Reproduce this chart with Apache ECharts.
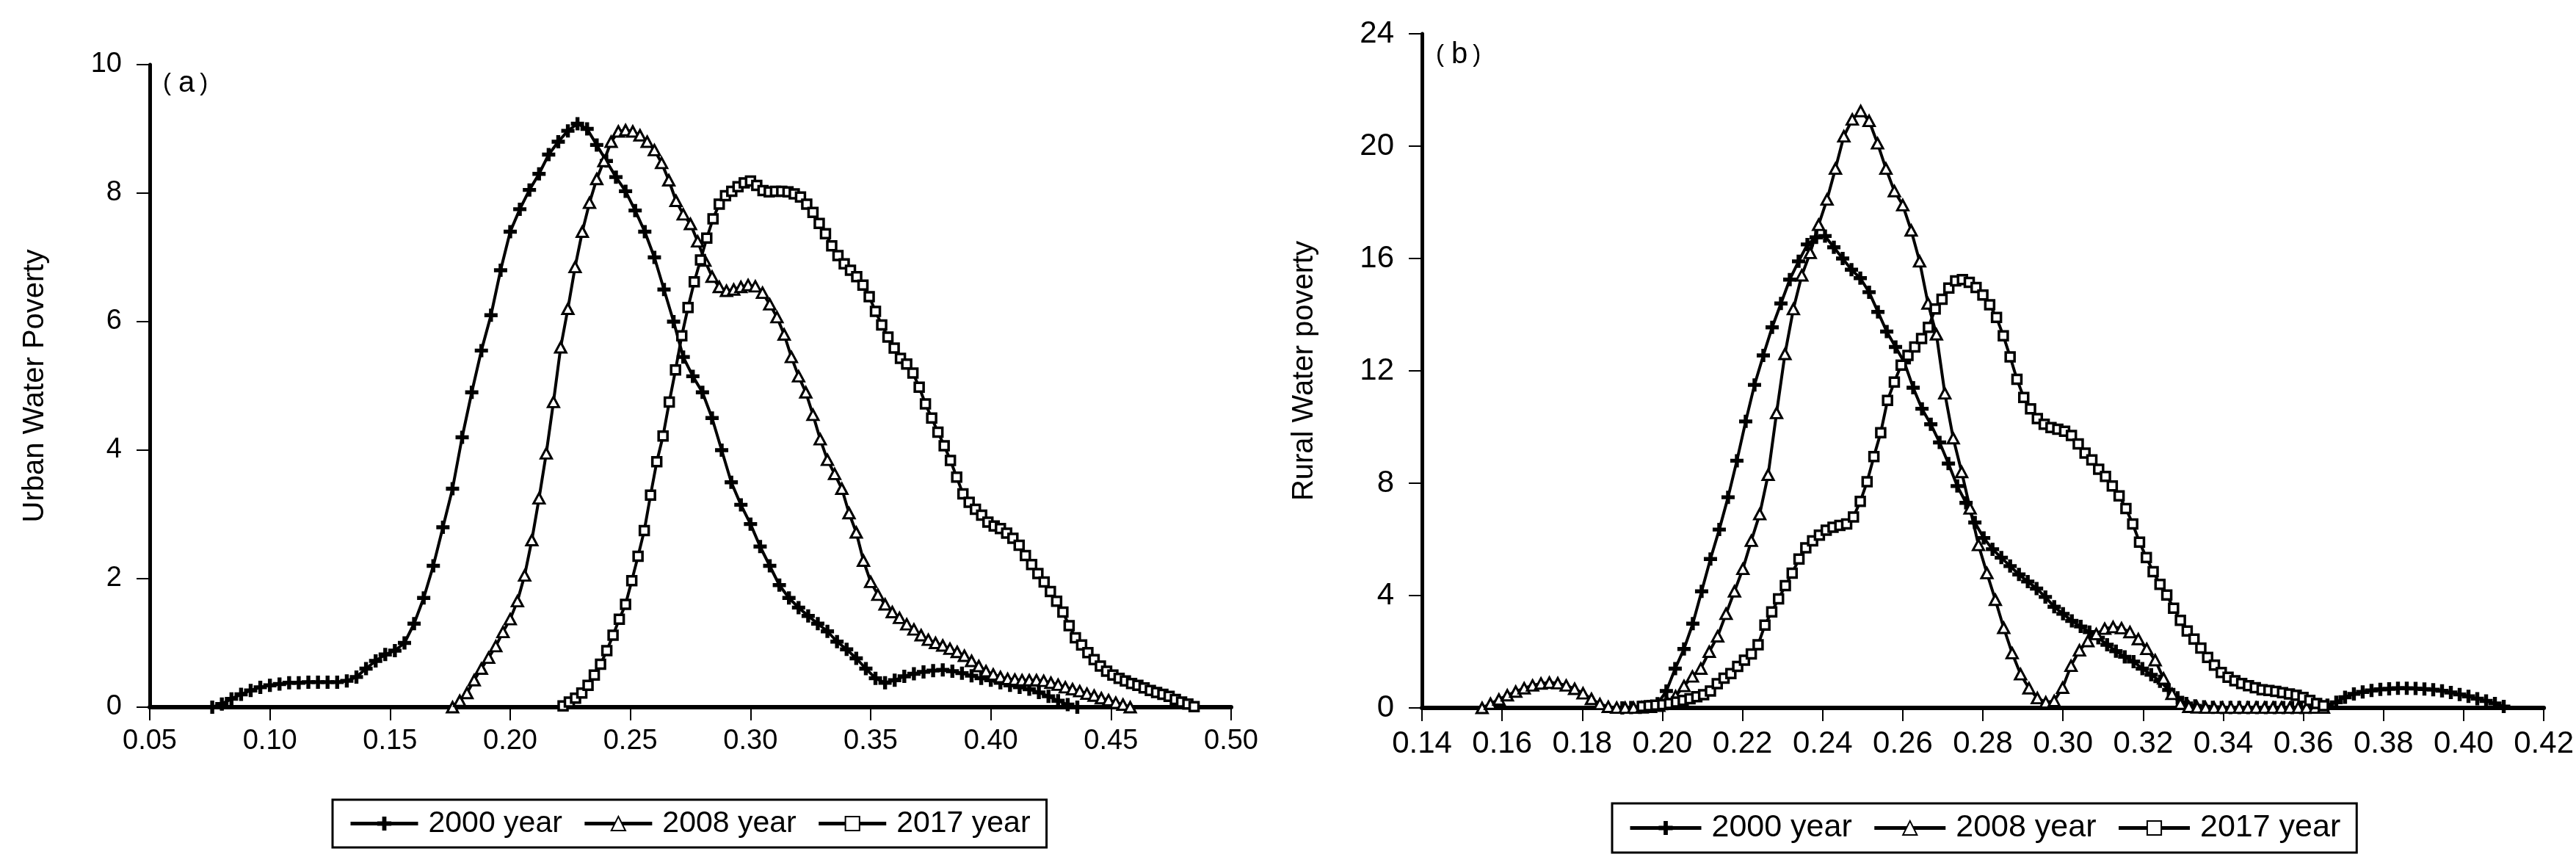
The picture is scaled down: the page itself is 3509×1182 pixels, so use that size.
<!DOCTYPE html>
<html>
<head>
<meta charset="utf-8">
<title>Urban / Rural Water Poverty kernel density</title>
<script src="https://cdn.jsdelivr.net/npm/echarts@6.0.0/dist/echarts.min.js"></script>
<style>
  html, body { margin: 0; padding: 0; background: #fff; }
  #chart { width: 3509px; height: 1182px; }
</style>
</head>
<body>
<div id="chart"></div>
<script>
// series names shared by both panels
var seriesNames = ['2000 year', '2008 year', '2017 year'];

// tick labels
var urbanXTicks = [0.05, 0.10, 0.15, 0.20, 0.25, 0.30, 0.35, 0.40, 0.45, 0.50];
var urbanYTicks = [0, 2, 4, 6, 8, 10];
var ruralXTicks = [0.14, 0.16, 0.18, 0.20, 0.22, 0.24, 0.26, 0.28, 0.30, 0.32, 0.34, 0.36, 0.38, 0.40, 0.42];
var ruralYTicks = [0, 4, 8, 12, 16, 20, 24];

// density evaluation grid of each curve: first x and spacing (2000, 2008, 2017)
var urbanStart = [0.076, 0.176, 0.222];
var urbanStep = [0.004, 0.003, 0.0026];
var ruralStart = [0.190, 0.155, 0.195];
var ruralStep = [0.0022, 0.0021, 0.0017];

// (a) Urban Water Poverty, density values
var urban2000 = [0, 0.05, 0.13, 0.2, 0.26, 0.31, 0.34, 0.36, 0.38, 0.38,
  0.39, 0.39, 0.39, 0.39, 0.41, 0.47, 0.6, 0.72, 0.82, 0.88,
  1.0, 1.3, 1.7, 2.2, 2.8, 3.4, 4.2, 4.9, 5.55, 6.1,
  6.8, 7.4, 7.75, 8.05, 8.3, 8.6, 8.8, 8.97, 9.08, 9.0,
  8.75, 8.5, 8.25, 8.03, 7.73, 7.4, 7.0, 6.5, 6.0, 5.45,
  5.15, 4.9, 4.5, 4.0, 3.5, 3.15, 2.85, 2.5, 2.2, 1.9,
  1.7, 1.55, 1.42, 1.3, 1.18, 1.02, 0.9, 0.76, 0.6, 0.45,
  0.38, 0.42, 0.48, 0.52, 0.55, 0.57, 0.58, 0.56, 0.53, 0.49,
  0.45, 0.42, 0.38, 0.34, 0.31, 0.28, 0.23, 0.17, 0.1, 0.04,
  0];
var urban2008 = [0, 0.1, 0.22, 0.42, 0.6, 0.77, 0.95, 1.17, 1.37, 1.65,
  2.05, 2.6, 3.25, 3.95, 4.75, 5.6, 6.2, 6.85, 7.4, 7.85,
  8.22, 8.5, 8.8, 8.96, 8.98, 8.96, 8.9, 8.8, 8.67, 8.47,
  8.2, 7.88, 7.67, 7.52, 7.25, 6.95, 6.7, 6.54, 6.48, 6.5,
  6.54, 6.57, 6.55, 6.45, 6.27, 6.07, 5.8, 5.45, 5.15, 4.9,
  4.55, 4.17, 3.85, 3.63, 3.4, 3.02, 2.72, 2.28, 1.95, 1.75,
  1.6, 1.48, 1.39, 1.29, 1.21, 1.12, 1.05, 1.0, 0.96, 0.91,
  0.86, 0.8, 0.72, 0.64, 0.56, 0.51, 0.47, 0.44, 0.43, 0.42,
  0.42, 0.42, 0.41, 0.38, 0.35, 0.31, 0.28, 0.25, 0.21, 0.18,
  0.14, 0.11, 0.07, 0.04, 0];
var urban2017 = [0.02, 0.08, 0.14, 0.22, 0.34, 0.5, 0.67, 0.88, 1.12, 1.37,
  1.6, 1.97, 2.35, 2.75, 3.3, 3.82, 4.22, 4.75, 5.25, 5.78,
  6.22, 6.62, 6.96, 7.3, 7.6, 7.83, 7.96, 8.03, 8.1, 8.16,
  8.19, 8.12, 8.04, 8.02, 8.03, 8.03, 8.02, 7.99, 7.94, 7.83,
  7.7, 7.53, 7.37, 7.18, 7.03, 6.9, 6.8, 6.7, 6.57, 6.39,
  6.16, 5.95, 5.76, 5.59, 5.43, 5.34, 5.2, 4.98, 4.72, 4.5,
  4.28, 4.07, 3.84, 3.58, 3.32, 3.19, 3.08, 2.99, 2.88, 2.82,
  2.78, 2.71, 2.63, 2.52, 2.36, 2.22, 2.08, 1.95, 1.8, 1.65,
  1.48, 1.27, 1.08, 0.97, 0.85, 0.74, 0.64, 0.56, 0.5, 0.45,
  0.41, 0.37, 0.34, 0.3, 0.26, 0.23, 0.2, 0.17, 0.12, 0.08,
  0.05, 0.01];

// (b) Rural Water poverty
var rural2000 = [0, 0.01, 0.02, 0.05, 0.15, 0.6, 1.4, 2.1, 3.0, 4.15,
  5.3, 6.35, 7.5, 8.8, 10.2, 11.5, 12.55, 13.55, 14.4, 15.25,
  15.9, 16.5, 16.75, 16.8, 16.4, 16.0, 15.6, 15.3, 14.8, 14.1,
  13.4, 12.85, 12.3, 11.4, 10.65, 10.1, 9.45, 8.7, 7.9, 7.3,
  6.6, 6.05, 5.65, 5.35, 5.05, 4.75, 4.5, 4.25, 3.95, 3.6,
  3.35, 3.1, 2.9, 2.7, 2.5, 2.25, 2.02, 1.82, 1.65, 1.4,
  1.18, 0.95, 0.64, 0.36, 0.16, 0.07, 0.04, 0.02, 0.01, 0.01,
  0.01, 0.01, 0.01, 0.01, 0.01, 0.01, 0.01, 0.01, 0.02, 0.04,
  0.1, 0.2, 0.38, 0.5, 0.57, 0.62, 0.66, 0.68, 0.7, 0.7,
  0.69, 0.67, 0.65, 0.61, 0.55, 0.48, 0.41, 0.33, 0.25, 0.16,
  0.05];
var rural2008 = [0, 0.15, 0.3, 0.45, 0.58, 0.7, 0.8, 0.87, 0.9, 0.88,
  0.8, 0.68, 0.52, 0.32, 0.14, 0.04, 0.01, 0.01, 0.01, 0.02,
  0.04, 0.08, 0.2, 0.42, 0.78, 1.12, 1.4, 2.0, 2.55, 3.35,
  4.15, 4.95, 5.95, 6.9, 8.3, 10.5, 12.6, 14.2, 15.4, 16.2,
  17.2, 18.1, 19.2, 20.35, 20.95, 21.25, 20.9, 20.1, 19.2, 18.4,
  17.9, 17.0, 15.9, 14.4, 13.3, 11.2, 9.6, 8.4, 7.1, 5.8,
  4.8, 3.85, 2.85, 1.95, 1.2, 0.7, 0.35, 0.2, 0.25, 0.72,
  1.5, 2.05, 2.38, 2.63, 2.82, 2.88, 2.84, 2.7, 2.45, 2.1,
  1.7, 1.05, 0.5, 0.15, 0.04, 0.02, 0.01, 0.01, 0.01, 0.01,
  0.01, 0.01, 0.01, 0.01, 0.01, 0.01, 0.01, 0.01, 0.01, 0.01,
  0.01];
var rural2017 = [0.05, 0.08, 0.1, 0.12, 0.16, 0.21, 0.27, 0.33, 0.4, 0.47,
  0.6, 0.86, 1.06, 1.22, 1.48, 1.7, 1.92, 2.25, 2.95, 3.42,
  3.88, 4.35, 4.8, 5.3, 5.7, 5.95, 6.15, 6.33, 6.43, 6.5,
  6.55, 6.8, 7.35, 8.05, 8.95, 9.8, 10.95, 11.6, 12.2, 12.55,
  12.85, 13.15, 13.55, 14.2, 14.55, 14.95, 15.2, 15.25, 15.15, 14.97,
  14.7, 14.35, 13.9, 13.25, 12.5, 11.7, 11.05, 10.65, 10.3, 10.1,
  9.98, 9.92, 9.85, 9.7, 9.4, 9.07, 8.83, 8.5, 8.24, 7.9,
  7.55, 7.1, 6.55, 5.9, 5.35, 4.85, 4.4, 4.02, 3.55, 3.12,
  2.74, 2.45, 2.13, 1.8, 1.52, 1.26, 1.09, 0.97, 0.87, 0.79,
  0.72, 0.65, 0.62, 0.59, 0.54, 0.5, 0.45, 0.37, 0.27, 0.16,
  0.08];

var FONT = '"Liberation Sans", Arial, sans-serif';
var PLUS = 'path://M3.5,0H6.5V3.5H10V6.5H6.5V10H3.5V6.5H0V3.5H3.5Z';

// marker look per year
var markers = [
  { symbol: PLUS, symbolSize: 18, itemStyle: { color: '#000', borderWidth: 0 } },
  { symbol: 'triangle', symbolSize: [15, 14], itemStyle: { color: '#fff', borderColor: '#000', borderWidth: 3 } },
  { symbol: 'rect', symbolSize: 12, itemStyle: { color: '#fff', borderColor: '#000', borderWidth: 3.5 } }
];

function toPoints(start, step, vals) {
  return vals.map(function (v, i) {
    return [+(start + i * step).toFixed(5), v];
  });
}

function makeSeries(k, axisIndex, start, step, vals) {
  var m = markers[k];
  return {
    name: seriesNames[k],
    type: 'line',
    xAxisIndex: axisIndex,
    yAxisIndex: axisIndex,
    data: toPoints(start, step, vals),
    symbol: m.symbol,
    symbolSize: m.symbolSize,
    showSymbol: true,
    showAllSymbol: true,
    itemStyle: m.itemStyle,
    lineStyle: { color: '#000', width: 4 },
    clip: false,
    z: 3 + k
  };
}

function xAxisOf(gridIndex, ticks, fontSize) {
  return {
    type: 'value',
    gridIndex: gridIndex,
    min: ticks[0],
    max: ticks[ticks.length - 1],
    interval: +(ticks[1] - ticks[0]).toFixed(2),
    axisLine: { onZero: false, lineStyle: { color: '#000', width: 6 } },
    axisTick: { length: 18, lineStyle: { color: '#000', width: 2 } },
    axisLabel: {
      margin: 28, color: '#000', fontSize: fontSize, fontFamily: FONT,
      formatter: function (v) { return v.toFixed(2); }
    },
    splitLine: { show: false }
  };
}

function yAxisOf(gridIndex, ticks, title, fontSize, gap) {
  return {
    type: 'value',
    gridIndex: gridIndex,
    min: ticks[0],
    max: ticks[ticks.length - 1],
    interval: ticks[1] - ticks[0],
    name: title,
    nameLocation: 'middle',
    nameGap: gap,
    nameTextStyle: { color: '#000', fontSize: 40, fontFamily: FONT },
    axisLine: { show: true, lineStyle: { color: '#000', width: 5 } },
    axisTick: { show: true, length: 18, lineStyle: { color: '#000', width: 2 } },
    axisLabel: { margin: 38, color: '#000', fontSize: fontSize, fontFamily: FONT },
    splitLine: { show: false }
  };
}

function legendOf(left, top, fontSize, itemWidth) {
  return {
    data: seriesNames,
    left: left,
    top: top,
    orient: 'horizontal',
    itemWidth: itemWidth,
    itemHeight: 24,
    itemGap: 28,
    padding: [12, 22],
    borderColor: '#000',
    borderWidth: 3,
    borderRadius: 0,
    backgroundColor: '#fff',
    lineStyle: { width: 5 },
    selectedMode: false,
    textStyle: { color: '#000', fontSize: fontSize, fontFamily: FONT, padding: [0, 0, 0, 9] }
  };
}

function panelTag(letter, left, top) {
  return {
    type: 'text',
    left: left,
    top: top,
    style: {
      text: '{p|(}{a|' + letter + '}{p|)}',
      rich: {
        p: { fontSize: 33, fontFamily: FONT, fill: '#000' },
        a: { fontSize: 40, fontFamily: FONT, fill: '#000', padding: [0, 7, 0, 10] }
      }
    }
  };
}

var chart = echarts.init(document.getElementById('chart'), null, { renderer: 'canvas' });

chart.setOption({
  backgroundColor: '#fff',
  animation: false,
  grid: [
    { left: 204, top: 88, width: 1473, height: 875, containLabel: false },
    { left: 1937, top: 46, width: 1531, height: 918, containLabel: false }
  ],
  xAxis: [xAxisOf(0, urbanXTicks, 38), xAxisOf(1, ruralXTicks, 42)],
  yAxis: [
    yAxisOf(0, urbanYTicks, 'Urban Water Poverty', 38, 136),
    yAxisOf(1, ruralYTicks, 'Rural Water poverty', 42, 140)
  ],
  legend: [legendOf(453, 1089, 41, 92), legendOf(2196, 1094, 43, 97)],
  graphic: [panelTag('a', 222, 94), panelTag('b', 1956, 55)],
  series: [
    makeSeries(0, 0, urbanStart[0], urbanStep[0], urban2000),
    makeSeries(1, 0, urbanStart[1], urbanStep[1], urban2008),
    makeSeries(2, 0, urbanStart[2], urbanStep[2], urban2017),
    makeSeries(0, 1, ruralStart[0], ruralStep[0], rural2000),
    makeSeries(1, 1, ruralStart[1], ruralStep[1], rural2008),
    makeSeries(2, 1, ruralStart[2], ruralStep[2], rural2017)
  ]
});
</script>
</body>
</html>
